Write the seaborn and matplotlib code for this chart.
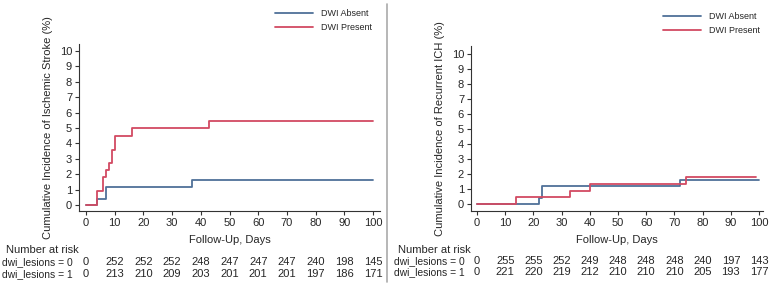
import pandas as pd
import matplotlib
matplotlib.use('Agg')
import matplotlib.pyplot as plt
import matplotlib.transforms as mtransforms
import seaborn as sns

# 数据：阶梯曲线的变化点
stroke_absent_x = [0, 4, 7, 37, 100]
stroke_absent_y = [0, 0.4, 1.2, 1.6, 1.6]
stroke_present_x = [0, 4, 6, 7, 8, 9, 10, 16, 43, 100]
stroke_present_y = [0, 0.9, 1.8, 2.3, 2.7, 3.6, 4.5, 5.0, 5.45, 5.45]

ich_absent_x = [0, 22, 23, 72, 100]
ich_absent_y = [0, 0.4, 1.2, 1.6, 1.6]
ich_present_x = [0, 14, 33, 40, 74, 99]
ich_present_y = [0, 0.45, 0.9, 1.35, 1.8, 1.8]

risk_days = [0, 10, 20, 30, 40, 50, 60, 70, 80, 90, 100]
stroke_risk0 = [0, 252, 252, 252, 248, 247, 247, 247, 240, 198, 145]
stroke_risk1 = [0, 213, 210, 209, 203, 201, 201, 201, 197, 186, 171]
ich_risk0 = [0, 255, 255, 252, 249, 248, 248, 248, 240, 197, 143]
ich_risk1 = [0, 221, 220, 219, 212, 210, 210, 210, 205, 193, 177]

groups = ['DWI Absent', 'DWI Present']
palette = {'DWI Absent': '#4f7198', 'DWI Present': '#d24a62'}

sns.set_style('ticks')
plt.rcParams['font.family'] = ['Liberation Sans', 'DejaVu Sans']

W, H = 772, 286
fig = plt.figure(figsize=(W / 100, H / 100), dpi=100)


def px_axes(left, top, right, bottom):
    return fig.add_axes([left / W, 1 - bottom / H, (right - left) / W, (bottom - top) / H])


def make_df(ax_, ay_, px_, py_):
    return pd.DataFrame({
        'day': ax_ + px_,
        'inc': ay_ + py_,
        'group': [groups[0]] * len(ax_) + [groups[1]] * len(px_),
    })


panels = [
    dict(box=(79, 44, 380, 211), xlim=(-2.44, 102.44), ylim=(-0.39, 10.45),
         df=make_df(stroke_absent_x, stroke_absent_y, stroke_present_x, stroke_present_y),
         ylabel='Cumulative Incidence of Ischemic Stroke (%)',
         risk=(stroke_risk0, stroke_risk1), label_x=2, title_x=6,
         rows_y=(250, 262, 274), legend=(275, 9)),
    dict(box=(471, 46, 763, 211), xlim=(-2.13, 101.4), ylim=(-0.46, 10.5),
         df=make_df(ich_absent_x, ich_absent_y, ich_present_x, ich_present_y),
         ylabel='Cumulative Incidence of Recurrent ICH (%)',
         risk=(ich_risk0, ich_risk1), label_x=394, title_x=398,
         rows_y=(250, 261, 272), legend=(663, 12)),
]

for p in panels:
    ax = px_axes(*p['box'])
    sns.lineplot(data=p['df'], x='day', y='inc', hue='group', palette=palette,
                 hue_order=groups, estimator=None, drawstyle='steps-post',
                 linewidth=1.3, ax=ax)
    ax.set_xlim(*p['xlim'])
    ax.set_ylim(*p['ylim'])
    ax.set_xticks(range(0, 101, 10))
    ax.set_yticks(range(0, 11))
    ax.tick_params(labelsize=8, length=3, width=0.8, pad=2, color='#333333')
    for s in ['left', 'bottom']:
        ax.spines[s].set_color('#333333')
        ax.spines[s].set_linewidth(0.8)
    sns.despine(ax=ax)
    ax.set_xlabel('Follow-Up, Days', fontsize=8, labelpad=5)
    ax.set_ylabel(p['ylabel'], fontsize=8, labelpad=5)

    lx, ly = p['legend']
    ax.legend(loc='upper left', bbox_to_anchor=(lx / W, 1 - ly / H),
              bbox_transform=fig.transFigure, frameon=False, fontsize=6.5,
              handlelength=4.2, handletextpad=0.9, labelspacing=0.55,
              borderpad=0, borderaxespad=0)

    # 风险人数表
    trans = mtransforms.blended_transform_factory(ax.transData, fig.transFigure)
    ty, r0y, r1y = p['rows_y']
    fig.text(p['title_x'] / W, 1 - ty / H, 'Number at risk', fontsize=8, va='center')
    fig.text(p['label_x'] / W, 1 - r0y / H, 'dwi_lesions = 0', fontsize=7.4, va='center')
    fig.text(p['label_x'] / W, 1 - r1y / H, 'dwi_lesions = 1', fontsize=7.4, va='center')
    for d, n0, n1 in zip(risk_days, p['risk'][0], p['risk'][1]):
        ax.text(d, 1 - r0y / H, str(n0), transform=trans, fontsize=8,
                ha='center', va='center', clip_on=False)
        ax.text(d, 1 - r1y / H, str(n1), transform=trans, fontsize=8,
                ha='center', va='center', clip_on=False)

# 中间分隔线
fig.add_artist(plt.Line2D([387 / W, 387 / W], [1 - 4 / H, 1 - 282 / H],
                          transform=fig.transFigure, color='#aaaaaa', linewidth=1.2))

fig.savefig('out.png', dpi=100)
